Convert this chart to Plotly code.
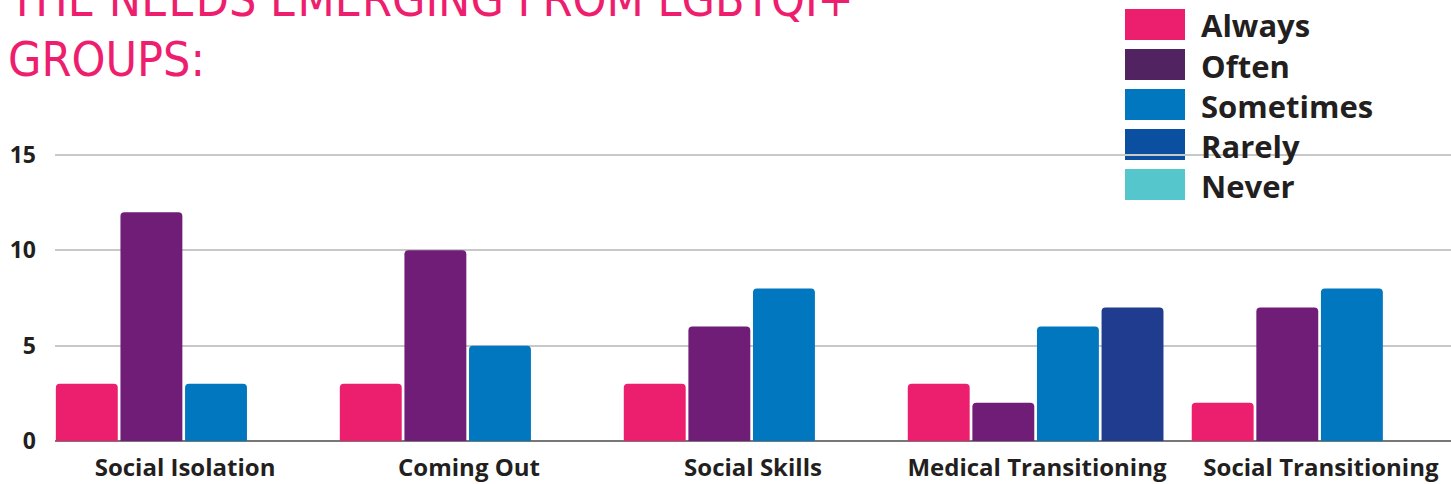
import plotly.graph_objects as go

categories = ["Social Isolation", "Coming Out", "Social Skills", "Medical Transitioning", "Social Transitioning"]
series_names = ["Always", "Often", "Sometimes", "Rarely", "Never"]
always = [3, 3, 3, 3, 2]
often = [12, 10, 6, 2, 7]
sometimes = [3, 5, 8, 6, 8]
rarely = [0, 0, 0, 7, 0]
never = [0, 0, 0, 0, 0]
y_ticks = [0, 5, 10, 15]
title_lines = ["THE NEEDS EMERGING FROM LGBTQI+", "GROUPS:"]

bar_colors = ["#EC1E6E", "#6F1D77", "#0077BE", "#1F3C8F", "#54C6CC"]
legend_colors = ["#EC1E6E", "#522361", "#0077BE", "#0A4FA0", "#54C6CC"]

values = [always, often, sometimes, rarely, never]
TXT = "#231F20"
FONT = "Open Sans"

fig = go.Figure()
slot = 0.2275
bw = 0.218
for i, (name, vals) in enumerate(zip(series_names, values)):
    if i == 4:
        continue
    fig.add_trace(go.Bar(
        x=categories, y=vals, name=name,
        marker=dict(color=bar_colors[i], cornerradius=4, line=dict(width=0)),
        width=bw, offset=-0.455 + slot * i,
        showlegend=False,
    ))

fig.update_layout(
    width=1451, height=484,
    margin=dict(l=55, r=0, t=100, b=43, autoexpand=False),
    paper_bgcolor="white", plot_bgcolor="white",
    barmode="group",
    xaxis=dict(range=[-0.458, 4.458], showgrid=False, ticks="", automargin=False,
               tickfont=dict(family=FONT, size=24, color=TXT, weight=700),
               ticklabelstandoff=10, showline=False, zeroline=False),
    yaxis=dict(range=[0, 17.885], tickvals=y_ticks, showgrid=True, automargin=False,
               gridcolor="#C8C8C8", gridwidth=1.5,
               zeroline=True, zerolinecolor="#777777", zerolinewidth=1.5,
               tickfont=dict(family=FONT, size=23, color=TXT, weight=700),
               ticklabelstandoff=18),
    showlegend=False,
)

# custom legend (swatches + labels)
for i, name in enumerate(series_names):
    y0 = 9 + 40 * i
    fig.add_shape(type="rect", xref="paper", yref="paper", layer="below",
                  x0=(1125 - 55) / 1396, x1=(1185 - 55) / 1396,
                  y0=(441 - (y0 + 31)) / 341, y1=(441 - y0) / 341,
                  fillcolor=legend_colors[i], line=dict(width=0))
    fig.add_annotation(xref="paper", yref="paper", x=(1199 - 55) / 1396,
                       y=(441 - (y0 + 16.5)) / 341, xanchor="left", yanchor="middle",
                       text=name, showarrow=False,
                       font=dict(family=FONT, size=31, color=TXT, weight=700))

for line, bottom in zip(title_lines, [29.5, 88.5]):
    fig.add_annotation(xref="paper", yref="paper", x=(6 - 55) / 1396, y=(441 - bottom) / 341,
                       xanchor="left", yanchor="bottom", align="left",
                       text=line, showarrow=False,
                       font=dict(family="DejaVu Sans Condensed", size=48, color="#EE1E6E"))

fig.write_html("out.html", config={"displayModeBar": False},
               post_script="document.body.style.margin='0';")
